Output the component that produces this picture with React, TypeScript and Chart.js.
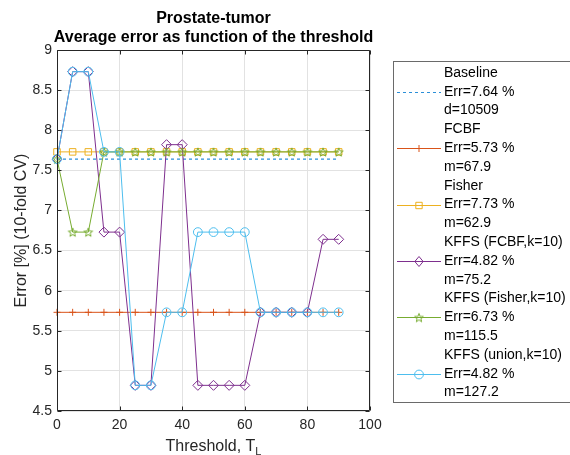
import React, { useEffect, useRef } from 'react';
import { Chart, registerables } from 'chart.js';

Chart.register(...registerables);

// ---------------- data ----------------
const thresholds = [0, 5, 10, 15, 20, 25, 30, 35, 40, 45, 50, 55, 60, 65, 70, 75, 80, 85, 90];
const baselineErr = [7.64, 7.64, 7.64, 7.64, 7.64, 7.64, 7.64, 7.64, 7.64, 7.64, 7.64, 7.64, 7.64, 7.64, 7.64, 7.64, 7.64, 7.64, 7.64];
const fcbfErr = [5.73, 5.73, 5.73, 5.73, 5.73, 5.73, 5.73, 5.73, 5.73, 5.73, 5.73, 5.73, 5.73, 5.73, 5.73, 5.73, 5.73, 5.73, 5.73];
const fisherErr = [7.73, 7.73, 7.73, 7.73, 7.73, 7.73, 7.73, 7.73, 7.73, 7.73, 7.73, 7.73, 7.73, 7.73, 7.73, 7.73, 7.73, 7.73, 7.73];
const kffsFcbfErr = [7.64, 8.73, 8.73, 6.73, 6.73, 4.82, 4.82, 7.82, 7.82, 4.82, 4.82, 4.82, 4.82, 5.73, 5.73, 5.73, 5.73, 6.64, 6.64];
const kffsFisherErr = [7.64, 6.73, 6.73, 7.73, 7.73, 7.73, 7.73, 7.73, 7.73, 7.73, 7.73, 7.73, 7.73, 7.73, 7.73, 7.73, 7.73, 7.73, 7.73];
const kffsUnionErr = [7.64, 8.73, 8.73, 7.73, 7.73, 4.82, 4.82, 5.73, 5.73, 6.73, 6.73, 6.73, 6.73, 5.73, 5.73, 5.73, 5.73, 5.73, 5.73];

const xTicks = [0, 20, 40, 60, 80, 100];
const yTicks = [4.5, 5, 5.5, 6, 6.5, 7, 7.5, 8, 8.5, 9];

const titleLines = ['Prostate-tumor', 'Average error as function of the threshold'];
const yLabel = 'Error [%] (10-fold CV)';
const xLabelMain = 'Threshold, T';
const xLabelSub = 'L';

const seriesNames = ['Baseline', 'FCBF', 'Fisher', 'KFFS (FCBF,k=10)', 'KFFS (Fisher,k=10)', 'KFFS (union,k=10)'];
const seriesErrText = ['Err=7.64 %', 'Err=5.73 %', 'Err=7.73 %', 'Err=4.82 %', 'Err=6.73 %', 'Err=4.82 %'];
const seriesExtraText = ['d=10509', 'm=67.9', 'm=62.9', 'm=75.2', 'm=115.5', 'm=127.2'];

// ---------------- styles ----------------
const seriesColors = ['#2b8fd8', '#D95319', '#EDB120', '#7E2F8E', '#77AC30', '#4DBEEE'];
const seriesMarkers = ['none', 'cross', 'rect', 'rectRot', 'star', 'circle'];
const FONT = '"Liberation Sans", Arial, Helvetica, sans-serif';
const AX = '#262626';

function makeStar(color: string, r: number): HTMLCanvasElement {
  const size = Math.ceil(2 * r + 4);
  const c = document.createElement('canvas');
  c.width = size;
  c.height = size;
  const ctx = c.getContext('2d')!;
  ctx.strokeStyle = color;
  ctx.lineWidth = 1;
  ctx.beginPath();
  for (let i = 0; i < 10; i++) {
    const ang = -Math.PI / 2 + (i * Math.PI) / 5;
    const rr = i % 2 === 0 ? r : r * 0.42;
    const x = size / 2 + rr * Math.cos(ang);
    const y = size / 2 + 0.5 + rr * Math.sin(ang);
    if (i === 0) ctx.moveTo(x, y);
    else ctx.lineTo(x, y);
  }
  ctx.closePath();
  ctx.stroke();
  return c;
}

function drawMarker(ctx: CanvasRenderingContext2D, kind: string, x: number, y: number, color: string, star: HTMLCanvasElement | null) {
  ctx.save();
  ctx.strokeStyle = color;
  ctx.lineWidth = 1;
  ctx.beginPath();
  if (kind === 'cross') {
    ctx.moveTo(x, y - 3.5);
    ctx.lineTo(x, y + 3.5);
    ctx.moveTo(x - 3.5, y);
    ctx.lineTo(x + 3.5, y);
    ctx.stroke();
  } else if (kind === 'rect') {
    ctx.rect(x - 3.2, y - 3.2, 6.4, 6.4);
    ctx.stroke();
  } else if (kind === 'rectRot') {
    ctx.moveTo(x, y - 5);
    ctx.lineTo(x + 4.2, y);
    ctx.lineTo(x, y + 5);
    ctx.lineTo(x - 4.2, y);
    ctx.closePath();
    ctx.stroke();
  } else if (kind === 'circle') {
    ctx.arc(x, y, 4.4, 0, Math.PI * 2);
    ctx.stroke();
  } else if (kind === 'star' && star) {
    ctx.drawImage(star, x - star.width / 2, y - star.height / 2);
  }
  ctx.restore();
}

export default function App() {
  const ref = useRef<HTMLCanvasElement | null>(null);

  useEffect(() => {
    const canvas = ref.current;
    if (!canvas) return;
    const star = makeStar(seriesColors[4], 4.6);

    const mk = (arr: number[]) => thresholds.map((t, i) => ({ x: t, y: arr[i] }));
    const seriesData = [baselineErr, fcbfErr, fisherErr, kffsFcbfErr, kffsFisherErr, kffsUnionErr];

    const datasets: any[] = seriesData.map((arr, i) => {
      const kind = seriesMarkers[i];
      const ds: any = {
        label: seriesNames[i],
        data: mk(arr),
        borderColor: seriesColors[i],
        backgroundColor: 'rgba(0,0,0,0)',
        pointBackgroundColor: 'rgba(0,0,0,0)',
        pointBorderColor: seriesColors[i],
        borderWidth: 1,
        pointBorderWidth: 1,
        tension: 0,
        clip: false,
        order: 10 - i,
      };
      if (kind === 'none') {
        ds.pointRadius = 0;
        ds.borderDash = [3, 3];
        ds.borderWidth = 1.2;
      } else if (kind === 'star') {
        ds.pointStyle = star;
        ds.pointRadius = 5;
      } else if (kind === 'cross') {
        ds.pointStyle = 'cross';
        ds.pointRadius = 3.5;
      } else if (kind === 'rect') {
        ds.pointStyle = 'rect';
        ds.pointRadius = 4.6;
      } else if (kind === 'rectRot') {
        ds.pointStyle = 'rectRot';
        ds.pointRadius = 5;
      } else {
        ds.pointStyle = 'circle';
        ds.pointRadius = 4.4;
      }
      ds.pointHoverRadius = ds.pointRadius;
      return ds;
    });

    const decor = {
      id: 'decor',
      afterDraw(chart: any) {
        const ctx: CanvasRenderingContext2D = chart.ctx;
        const a = chart.chartArea;
        const xs = chart.scales.x;
        const ys = chart.scales.y;
        ctx.save();
        // frame
        const L = Math.round(a.left) + 0.5;
        const R = Math.round(a.right) - 0.5;
        const T = Math.round(a.top) + 0.5;
        const B = Math.round(a.bottom) - 0.5;
        ctx.strokeStyle = AX;
        ctx.lineWidth = 1;
        ctx.beginPath();
        ctx.rect(L, T, R - L, B - T);
        // inward ticks
        xTicks.forEach((v) => {
          const px = Math.round(xs.getPixelForValue(v)) + 0.5;
          ctx.moveTo(px, B);
          ctx.lineTo(px, B - 4);
          ctx.moveTo(px, T);
          ctx.lineTo(px, T + 4);
        });
        yTicks.forEach((v) => {
          const py = Math.round(ys.getPixelForValue(v)) + 0.5;
          ctx.moveTo(L, py);
          ctx.lineTo(L + 4, py);
          ctx.moveTo(R, py);
          ctx.lineTo(R - 4, py);
        });
        ctx.stroke();

        // title
        const cx = (a.left + a.right) / 2;
        ctx.fillStyle = '#000';
        ctx.font = `bold 16px ${FONT}`;
        ctx.textAlign = 'center';
        ctx.textBaseline = 'middle';
        ctx.fillText(titleLines[0], cx, 19);
        ctx.fillText(titleLines[1], cx, 37.5);

        // x label
        ctx.fillStyle = AX;
        ctx.font = `16px ${FONT}`;
        const wMain = ctx.measureText(xLabelMain).width;
        ctx.font = `11px ${FONT}`;
        const wSub = ctx.measureText(xLabelSub).width;
        const startX = cx - (wMain + wSub) / 2;
        ctx.textAlign = 'left';
        ctx.font = `16px ${FONT}`;
        ctx.fillText(xLabelMain, startX, 447);
        ctx.font = `11px ${FONT}`;
        ctx.fillText(xLabelSub, startX + wMain, 452);

        // y label
        ctx.save();
        ctx.translate(22, (a.top + a.bottom) / 2);
        ctx.rotate(-Math.PI / 2);
        ctx.textAlign = 'center';
        ctx.font = `16px ${FONT}`;
        ctx.fillText(yLabel, 0, 0);
        ctx.restore();

        // legend
        const bx = 393.5;
        const by = 61.5;
        ctx.strokeStyle = '#6a6a6a';
        ctx.strokeRect(bx, by, 200, 341);
        const lineH = 18.8;
        const y0 = 73;
        ctx.font = `14px ${FONT}`;
        ctx.textAlign = 'left';
        ctx.textBaseline = 'middle';
        for (let i = 0; i < seriesNames.length; i++) {
          const ty = y0 + i * 3 * lineH;
          ctx.fillStyle = '#000';
          ctx.fillText(seriesNames[i], 444, ty);
          ctx.fillText(seriesErrText[i], 444, ty + lineH);
          ctx.fillText(seriesExtraText[i], 444, ty + 2 * lineH);
          const ly = Math.round(ty + lineH) + 0.5;
          ctx.save();
          ctx.strokeStyle = seriesColors[i];
          ctx.lineWidth = 1;
          if (seriesMarkers[i] === 'none') ctx.setLineDash([3, 3]);
          ctx.beginPath();
          ctx.moveTo(397, ly);
          ctx.lineTo(441, ly);
          ctx.stroke();
          ctx.restore();
          drawMarker(ctx, seriesMarkers[i], 419, ly, seriesColors[i], star);
        }
        ctx.restore();
      },
    };

    const chart = new Chart(canvas, {
      type: 'line',
      data: { datasets },
      options: {
        animation: false,
        responsive: false,
        maintainAspectRatio: false,
        devicePixelRatio: 1,
        layout: { padding: { top: 50, right: 200, left: 0, bottom: 0 } },
        plugins: {
          legend: { display: false },
          title: { display: false },
          tooltip: { enabled: false },
        },
        events: [],
        scales: {
          x: {
            type: 'linear',
            min: 0,
            max: 100,
            afterFit: (s: any) => {
              s.height = 44;
            },
            afterBuildTicks: (s: any) => {
              s.ticks = xTicks.map((v) => ({ value: v }));
            },
            ticks: {
              color: AX,
              font: { family: FONT, size: 14 },
              padding: 6,
              maxRotation: 0,
              callback: (v: any) => String(v),
            },
            grid: { color: '#e2e2e2', drawTicks: false },
            border: { display: false },
          },
          y: {
            type: 'linear',
            min: 4.5,
            max: 9,
            afterFit: (s: any) => {
              s.width = 57;
            },
            afterBuildTicks: (s: any) => {
              s.ticks = yTicks.map((v) => ({ value: v }));
            },
            ticks: {
              color: AX,
              font: { family: FONT, size: 14 },
              padding: 5,
              callback: (v: any) => String(v),
            },
            grid: { color: '#e2e2e2', drawTicks: false },
            border: { display: false },
          },
        },
      },
      plugins: [decor],
    });

    return () => {
      chart.destroy();
    };
  }, []);

  return (
    <div style={{ position: 'absolute', left: 0, top: 0, width: 570, height: 455, background: '#fff' }}>
      <canvas ref={ref} width={570} height={455} style={{ width: 570, height: 455, display: 'block' }} />
    </div>
  );
}
